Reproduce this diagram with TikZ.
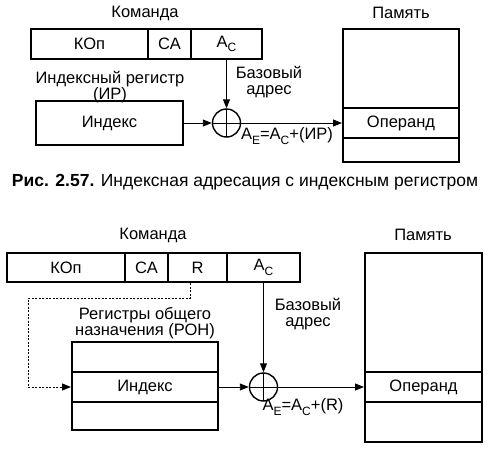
\documentclass[tikz,border=0pt]{standalone}
\usepackage{fontspec}
\setmainfont{Liberation Sans}
\usetikzlibrary{arrows.meta}
\newcommand\lowsub[1]{\raisebox{-0.5ex}{\fontsize{12}{12}\selectfont #1}}
\begin{document}
\begin{tikzpicture}[x=1pt,y=-1pt,
  font=\fontsize{16.5}{16}\selectfont,
  cell/.style={draw, line width=2pt, inner sep=0pt},
  lbl/.style={inner sep=0pt, align=center},
  sumnode/.style={circle, draw, line width=1.4pt, minimum size=28pt, inner sep=0pt,
    path picture={\draw[line width=1pt] (path picture bounding box.north) -- (path picture bounding box.south)
      (path picture bounding box.west) -- (path picture bounding box.east);}},
  arr/.style={-{Triangle[length=9pt,width=7pt]}, line width=0.9pt},
  darr/.style={arr, dash pattern=on 2pt off 1.5pt}]
\useasboundingbox (0,0) rectangle (493,448);

% ---------- Figure 2.57 ----------
\node[lbl] (cmd1) at (145,13) {Команда};
\node[cell, minimum width=117pt, minimum height=30pt] (kop1) at (89.5,44) {КОп};
\node[cell, minimum width=43pt, minimum height=30pt] (ca1) at (169.5,44) {СА};
\node[cell, minimum width=71pt, minimum height=30pt] (ac1) at (226.5,44) {A\lowsub{C}};

\node[lbl] (irl) at (110,87) {Индексный регистр\\(ИР)};
\node[cell, minimum width=147pt, minimum height=44pt] (idx1) at (109.5,123) {Индекс};

\node[sumnode] (sum1) at (226.5,123) {};
\node[lbl] (base1) at (269,82) {Базовый\\адрес};
\node[lbl] (ae1) at (287,136) {A\lowsub{E}=A\lowsub{C}+(ИР)};

\node[lbl] (mem1l) at (401,13) {Память};
\node[cell, minimum width=116pt, minimum height=79pt] (mem1a) at (401,68.5) {};
\node[cell, minimum width=116pt, minimum height=30pt] (mem1b) at (401,123) {Операнд};
\node[cell, minimum width=116pt, minimum height=24pt] (mem1c) at (401,150) {};

\draw[arr] (ac1.south) -- (sum1.north);
\draw[arr] (idx1.east) -- (sum1.west);
\draw[arr] (sum1.east) -- (mem1b.west);

\node[lbl, font=\fontsize{17.5}{18}\selectfont] (cap) at (245,182) {\textbf{Рис. 2.57.} Индексная адресация с индексным регистром};

% ---------- Second figure ----------
\node[lbl] (cmd2) at (153,235) {Команда};
\node[cell, minimum width=118pt, minimum height=29pt] (kop2) at (66,267.5) {КОп};
\node[cell, minimum width=43pt, minimum height=29pt] (ca2) at (146.5,267.5) {СА};
\node[cell, minimum width=59pt, minimum height=29pt] (r2) at (197.5,267.5) {R};
\node[cell, minimum width=73pt, minimum height=29pt] (ac2) at (263.5,267.5) {A\lowsub{C}};

\node[lbl] (ronl) at (145,323.5) {Регистры общего\\назначения (РОН)};
\node[cell, minimum width=146pt, minimum height=30pt] (rega) at (145,357) {};
\node[cell, minimum width=146pt, minimum height=30pt] (regb) at (145,387) {Индекс};
\node[cell, minimum width=146pt, minimum height=28pt] (regc) at (145,416) {};

\node[sumnode] (sum2) at (263.5,387) {};
\node[lbl] (base2) at (308,314.5) {Базовый\\адрес};
\node[lbl] (ae2) at (303,407) {A\lowsub{E}=A\lowsub{C}+(R)};

\node[lbl] (mem2l) at (423,235) {Память};
\node[cell, minimum width=117pt, minimum height=119pt] (mem2a) at (423.5,312.5) {};
\node[cell, minimum width=117pt, minimum height=30pt] (mem2b) at (423.5,387) {Операнд};
\node[cell, minimum width=117pt, minimum height=40pt] (mem2c) at (423.5,422) {};

\coordinate (bend) at (28,298);
\draw[darr] ([xshift=-7.5pt]r2.south) |- (bend) |- (regb.west);
\draw[arr] (ac2.south) -- (sum2.north);
\draw[arr] (regb.east) -- (sum2.west);
\draw[arr] (sum2.east) -- (mem2b.west);
\end{tikzpicture}
\end{document}
